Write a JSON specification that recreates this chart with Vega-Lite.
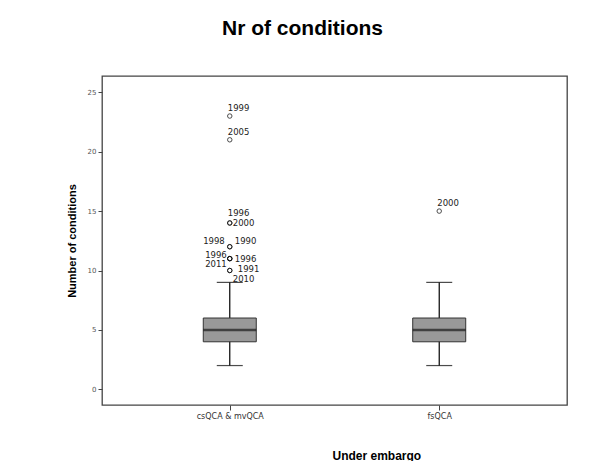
{
  "$schema": "https://vega.github.io/schema/vega-lite/v6.json",
  "width": 465,
  "height": 329,
  "autosize": {"type": "none"},
  "padding": {"left": 102, "top": 76, "right": 44, "bottom": 56},
  "background": "white",
  "title": {"text": "Nr of conditions", "font": "Liberation Sans", "fontSize": 21, "fontWeight": "bold", "color": "black", "anchor": "middle", "dx": -32, "offset": 37},
  "config": {
    "view": {"stroke": "#444", "strokeWidth": 1.3},
    "axis": {"grid": false, "domain": false, "tickColor": "#444"}
  },
  "datasets": {
    "boxes": [
      {"group": "csQCA & mvQCA", "min": 2, "q1": 4, "median": 5, "q3": 6, "max": 9},
      {"group": "fsQCA", "min": 2, "q1": 4, "median": 5, "q3": 6, "max": 9}
    ],
    "outliers": [
      {"id": 1, "group": "csQCA & mvQCA", "value": 23, "year": "1999"},
      {"id": 2, "group": "csQCA & mvQCA", "value": 21, "year": "2005"},
      {"id": 3, "group": "csQCA & mvQCA", "value": 14, "year": "1996"},
      {"id": 4, "group": "csQCA & mvQCA", "value": 14, "year": "2000"},
      {"id": 5, "group": "csQCA & mvQCA", "value": 12, "year": "1998"},
      {"id": 6, "group": "csQCA & mvQCA", "value": 12, "year": "1990"},
      {"id": 7, "group": "csQCA & mvQCA", "value": 11, "year": "1996"},
      {"id": 8, "group": "csQCA & mvQCA", "value": 11, "year": "2011"},
      {"id": 9, "group": "csQCA & mvQCA", "value": 11, "year": "1996"},
      {"id": 10, "group": "csQCA & mvQCA", "value": 10, "year": "1991"},
      {"id": 11, "group": "csQCA & mvQCA", "value": 10, "year": "2010"},
      {"id": 12, "group": "fsQCA", "value": 15, "year": "2000"}
    ]
  },
  "encoding": {
    "x": {
      "field": "group", "type": "nominal",
      "scale": {"type": "point", "padding": 0.61, "domain": ["csQCA & mvQCA", "fsQCA"]},
      "axis": {"labelAngle": 0, "labelFont": "DejaVu Sans", "labelFontSize": 8, "labelColor": "#333", "tickSize": 5, "labelPadding": 2,
        "title": "Under embargo", "titleFont": "Liberation Sans", "titleFontSize": 12, "titleFontWeight": "bold", "titleColor": "black",
        "titleAnchor": "start", "titleAlign": "left", "titleX": 230, "titleY": 50, "titleBaseline": "middle"}
    }
  },
  "layer": [
    {
      "data": {"name": "boxes"},
      "mark": {"type": "rule", "color": "black", "strokeWidth": 1.2},
      "encoding": {
        "y": {"field": "min", "type": "quantitative",
          "scale": {"domain": [-1.32, 26.37], "nice": false, "zero": false},
          "axis": {"values": [0, 5, 10, 15, 20, 25], "labelFont": "DejaVu Sans", "labelFontSize": 7, "labelColor": "#555", "tickSize": 4, "labelPadding": 2,
            "title": "Number of conditions", "titleFont": "Liberation Sans", "titleFontSize": 11, "titleFontWeight": "bold", "titleColor": "black",
            "titleX": -30, "titleBaseline": "middle"}},
        "y2": {"field": "max"}
      }
    },
    {
      "data": {"name": "boxes"},
      "mark": {"type": "tick", "color": "black", "size": 26, "thickness": 1.2},
      "encoding": {"y": {"field": "min", "type": "quantitative"}}
    },
    {
      "data": {"name": "boxes"},
      "mark": {"type": "tick", "color": "black", "size": 26, "thickness": 1.2},
      "encoding": {"y": {"field": "max", "type": "quantitative"}}
    },
    {
      "data": {"name": "boxes"},
      "mark": {"type": "bar", "size": 53, "fill": "#999999", "stroke": "#333", "strokeWidth": 1},
      "encoding": {"y": {"field": "q1", "type": "quantitative"}, "y2": {"field": "q3"}}
    },
    {
      "data": {"name": "boxes"},
      "mark": {"type": "tick", "color": "#1a1a1a", "size": 53, "thickness": 2.5},
      "encoding": {"y": {"field": "median", "type": "quantitative"}}
    },
    {
      "data": {"name": "outliers"},
      "mark": {"type": "point", "shape": "circle", "filled": false, "size": 20, "stroke": "black", "strokeWidth": 1},
      "encoding": {"y": {"field": "value", "type": "quantitative"}}
    },
    {
      "data": {"name": "outliers"},
      "transform": [{"filter": {"field": "id", "oneOf": [1, 2, 12]}}],
      "mark": {"type": "text", "font": "DejaVu Sans", "fontSize": 8.5, "color": "#222", "align": "left", "baseline": "middle", "dx": -2, "dy": -8},
      "encoding": {"y": {"field": "value", "type": "quantitative"}, "text": {"field": "year"}}
    },
    {
      "data": {"name": "outliers"},
      "transform": [{"filter": {"field": "id", "oneOf": [3]}}],
      "mark": {"type": "text", "font": "DejaVu Sans", "fontSize": 8.5, "color": "#222", "align": "left", "baseline": "middle", "dx": -2, "dy": -10},
      "encoding": {"y": {"field": "value", "type": "quantitative"}, "text": {"field": "year"}}
    },
    {
      "data": {"name": "outliers"},
      "transform": [{"filter": {"field": "id", "oneOf": [4]}}],
      "mark": {"type": "text", "font": "DejaVu Sans", "fontSize": 8.5, "color": "#222", "align": "left", "baseline": "middle", "dx": 3, "dy": 0},
      "encoding": {"y": {"field": "value", "type": "quantitative"}, "text": {"field": "year"}}
    },
    {
      "data": {"name": "outliers"},
      "transform": [{"filter": {"field": "id", "oneOf": [6]}}],
      "mark": {"type": "text", "font": "DejaVu Sans", "fontSize": 8.5, "color": "#222", "align": "left", "baseline": "middle", "dx": 5, "dy": -6},
      "encoding": {"y": {"field": "value", "type": "quantitative"}, "text": {"field": "year"}}
    },
    {
      "data": {"name": "outliers"},
      "transform": [{"filter": {"field": "id", "oneOf": [5]}}],
      "mark": {"type": "text", "font": "DejaVu Sans", "fontSize": 8.5, "color": "#222", "align": "right", "baseline": "middle", "dx": -5, "dy": -6},
      "encoding": {"y": {"field": "value", "type": "quantitative"}, "text": {"field": "year"}}
    },
    {
      "data": {"name": "outliers"},
      "transform": [{"filter": {"field": "id", "oneOf": [7]}}],
      "mark": {"type": "text", "font": "DejaVu Sans", "fontSize": 8.5, "color": "#222", "align": "right", "baseline": "middle", "dx": -3, "dy": -4},
      "encoding": {"y": {"field": "value", "type": "quantitative"}, "text": {"field": "year"}}
    },
    {
      "data": {"name": "outliers"},
      "transform": [{"filter": {"field": "id", "oneOf": [8]}}],
      "mark": {"type": "text", "font": "DejaVu Sans", "fontSize": 8.5, "color": "#222", "align": "right", "baseline": "middle", "dx": -3, "dy": 5},
      "encoding": {"y": {"field": "value", "type": "quantitative"}, "text": {"field": "year"}}
    },
    {
      "data": {"name": "outliers"},
      "transform": [{"filter": {"field": "id", "oneOf": [9]}}],
      "mark": {"type": "text", "font": "DejaVu Sans", "fontSize": 8.5, "color": "#222", "align": "left", "baseline": "middle", "dx": 5, "dy": 0},
      "encoding": {"y": {"field": "value", "type": "quantitative"}, "text": {"field": "year"}}
    },
    {
      "data": {"name": "outliers"},
      "transform": [{"filter": {"field": "id", "oneOf": [10]}}],
      "mark": {"type": "text", "font": "DejaVu Sans", "fontSize": 8.5, "color": "#222", "align": "left", "baseline": "middle", "dx": 8, "dy": -2},
      "encoding": {"y": {"field": "value", "type": "quantitative"}, "text": {"field": "year"}}
    },
    {
      "data": {"name": "outliers"},
      "transform": [{"filter": {"field": "id", "oneOf": [11]}}],
      "mark": {"type": "text", "font": "DejaVu Sans", "fontSize": 8.5, "color": "#222", "align": "left", "baseline": "middle", "dx": 3, "dy": 8},
      "encoding": {"y": {"field": "value", "type": "quantitative"}, "text": {"field": "year"}}
    }
  ]
}
